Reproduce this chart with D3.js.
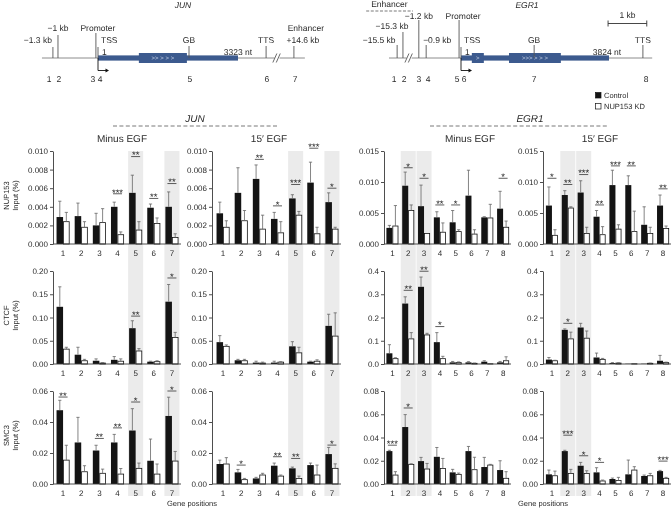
<!DOCTYPE html>
<html><head><meta charset="utf-8">
<script src="https://cdn.jsdelivr.net/npm/d3@7"></script>
<style>body{margin:0;background:#fff} svg{display:block;font-family:"Liberation Sans",Arial,sans-serif;will-change:transform} svg text{text-rendering:geometricPrecision}</style>
</head><body><svg id="c" width="672" height="510"></svg>
<script>
// ---------------- DATA ----------------
const junPositions = ["1","2","3","4","5","6","7"];
const egr1Positions = ["1","2","3","4","5","6","7","8"];
const junShaded = ["5","7"];
const egr1Shaded = ["2","3"];
const seriesNames = ["Control","NUP153 KD"];
const rowFactors = ["NUP153","CTCF","SMC3"];
const conditions = ["Minus EGF","15\u2032 EGF"];

// NUP153 row
const nupJunMinusCtrl = [0.0029,0.0030,0.0020,0.0040,0.0055,0.0039,0.0040];
const nupJunMinusCtrlSd = [0.0017,0.0014,0.0013,0.0005,0.0019,0.0004,0.0016];
const nupJunMinusKd = [0.0024,0.0018,0.0023,0.0010,0.0015,0.0022,0.0007];
const nupJunMinusKdSd = [0.0010,0.0006,0.0015,0.0003,0.0009,0.0006,0.0004];
const nupJunMinusSig = [null,null,null,"***","**","**","**"];
const nupJunMinusSigY = [null,null,null,0.0054,0.0094,0.0049,0.0065];

const nupJun15Ctrl = [0.0033,0.0055,0.0070,0.0027,0.0049,0.0066,0.0045];
const nupJun15CtrlSd = [0.0012,0.0027,0.0015,0.0007,0.0004,0.0022,0.0010];
const nupJun15Kd = [0.0018,0.0025,0.0016,0.0012,0.0031,0.0011,0.0016];
const nupJun15KdSd = [0.0007,0.0011,0.0015,0.0012,0.0004,0.0007,0.0002];
const nupJun15Sig = [null,null,"**","*","***","***","*"];
const nupJun15SigY = [null,null,0.0091,0.0041,0.0064,0.0103,0.0060];

const nupEgrMinusCtrl = [0.0026,0.0094,0.0061,0.0043,0.0035,0.0078,0.0043,0.0057];
const nupEgrMinusCtrlSd = [0.0004,0.0022,0.0034,0.0009,0.0019,0.0041,0.0001,0.0028];
const nupEgrMinusKd = [0.0029,0.0054,0.0017,0.0019,0.0020,0.0016,0.0042,0.0027];
const nupEgrMinusKdSd = [0.0033,0.0009,0.0000,0.0015,0.0003,0.0007,0.0022,0.0010];
const nupEgrMinusSig = [null,"*","*","**","*",null,null,"*"];
const nupEgrMinusSigY = [null,0.0123,0.0106,0.0063,0.0063,null,null,0.0106];

const nupEgr15Ctrl = [0.0062,0.0079,0.0083,0.0044,0.0095,0.0095,0.0031,0.0062];
const nupEgr15CtrlSd = [0.0030,0.0007,0.0019,0.0010,0.0024,0.0015,0.0029,0.0017];
const nupEgr15Kd = [0.0014,0.0058,0.0017,0.0015,0.0024,0.0020,0.0017,0.0025];
const nupEgr15KdSd = [0.0009,0.0002,0.0010,0.0013,0.0007,0.0033,0.0010,0.0004];
const nupEgr15Sig = ["*","**","***","**","***","**",null,"**"];
const nupEgr15SigY = [0.0106,0.0096,0.0112,0.0063,0.0126,0.0126,null,0.0089];

// CTCF row
const ctcfJunMinusCtrl = [0.123,0.020,0.007,0.009,0.077,0.005,0.134];
const ctcfJunMinusCtrlSd = [0.043,0.016,0.004,0.007,0.016,0.001,0.037];
const ctcfJunMinusKd = [0.032,0.007,0.002,0.006,0.028,0.005,0.057];
const ctcfJunMinusKdSd = [0.004,0.003,0.001,0.005,0.005,0.002,0.011];
const ctcfJunMinusSig = [null,null,null,null,"**",null,"*"];
const ctcfJunMinusSigY = [null,null,null,null,0.103,null,0.185];

const ctcfJun15Ctrl = [0.047,0.008,0.003,0.003,0.038,0.005,0.082];
const ctcfJun15CtrlSd = [0.014,0.002,0.003,0.003,0.010,0.001,0.025];
const ctcfJun15Kd = [0.038,0.007,0.002,0.004,0.024,0.006,0.060];
const ctcfJun15KdSd = [0.003,0.003,0.002,0.001,0.012,0.003,0.050];
const ctcfJun15Sig = [null,null,null,null,null,null,null];
const ctcfJun15SigY = [null,null,null,null,null,null,null];

const ctcfEgrMinusCtrl = [0.046,0.260,0.332,0.094,0.007,0.007,0.010,0.007];
const ctcfEgrMinusCtrlSd = [0.037,0.029,0.042,0.041,0.004,0.003,0.004,0.004];
const ctcfEgrMinusKd = [0.023,0.108,0.125,0.023,0.006,0.003,0.001,0.014];
const ctcfEgrMinusKdSd = [0.004,0.027,0.007,0.010,0.003,0.001,0.000,0.017];
const ctcfEgrMinusSig = [null,"**","**","*",null,null,null,null];
const ctcfEgrMinusSigY = [null,0.317,0.399,0.161,null,null,null,null];

const ctcfEgr15Ctrl = [0.019,0.147,0.157,0.028,0.004,0.001,0.001,0.014];
const ctcfEgr15CtrlSd = [0.009,0.004,0.018,0.019,0.002,0.000,0.000,0.023];
const ctcfEgr15Kd = [0.014,0.108,0.111,0.020,0.004,0.001,0.003,0.006];
const ctcfEgr15KdSd = [0.002,0.029,0.031,0.004,0.001,0.000,0.001,0.002];
const ctcfEgr15Sig = [null,"*",null,null,null,null,null,null];
const ctcfEgr15SigY = [null,0.175,null,null,null,null,null,null];

// SMC3 row
const smcJunMinusCtrl = [0.0476,0.0268,0.0216,0.0268,0.0345,0.0150,0.0439];
const smcJunMinusCtrlSd = [0.0064,0.0162,0.0034,0.0052,0.0141,0.0140,0.0121];
const smcJunMinusKd = [0.0154,0.0079,0.0069,0.0064,0.0101,0.0064,0.0148];
const smcJunMinusKdSd = [0.0096,0.0039,0.0027,0.0036,0.0034,0.0065,0.0062];
const smcJunMinusSig = ["**",null,"**","**","*",null,"*"];
const smcJunMinusSigY = [0.0561,null,0.0294,0.0362,0.0529,null,0.0600];

const smcJun15Ctrl = [0.0129,0.0075,0.0036,0.0118,0.0101,0.0122,0.0193];
const smcJun15CtrlSd = [0.0025,0.0019,0.0007,0.0017,0.0008,0.0013,0.0043];
const smcJun15Kd = [0.0129,0.0028,0.0058,0.0051,0.0036,0.0058,0.0101];
const smcJun15KdSd = [0.0041,0.0008,0.0011,0.0007,0.0015,0.0064,0.0029];
const smcJun15Sig = [null,"*",null,"**","**",null,"*"];
const smcJun15SigY = [null,0.0122,null,0.0176,0.0165,null,0.0251];

const smcEgrMinusCtrl = [0.0283,0.0490,0.0197,0.0234,0.0100,0.0283,0.0146,0.0120];
const smcEgrMinusCtrlSd = [0.0007,0.0107,0.0032,0.0080,0.0026,0.0040,0.0083,0.0080];
const smcEgrMinusKd = [0.0077,0.0169,0.0129,0.0134,0.0083,0.0123,0.0163,0.0049];
const smcEgrMinusKdSd = [0.0029,0.0005,0.0048,0.0086,0.0011,0.0107,0.0006,0.0057];
const smcEgrMinusSig = ["***","*",null,null,null,null,null,null];
const smcEgrMinusSigY = [0.0334,0.0654,null,null,null,null,null,null];

const smcEgr15Ctrl = [0.0083,0.0283,0.0157,0.0100,0.0043,0.0083,0.0069,0.0111];
const smcEgr15CtrlSd = [0.0037,0.0007,0.0029,0.0040,0.0008,0.0123,0.0008,0.0006];
const smcEgr15Kd = [0.0071,0.0091,0.0091,0.0026,0.0031,0.0120,0.0071,0.0049];
const smcEgr15KdSd = [0.0040,0.0035,0.0023,0.0008,0.0026,0.0029,0.0020,0.0008];
const smcEgr15Sig = [null,"***","*","*",null,null,null,"***"];
const smcEgr15SigY = [null,0.0420,0.0243,0.0186,null,null,null,0.0197];

// y-axis ticks per row (JUN, EGR1)
const junTicks = [[0,0.002,0.004,0.006,0.008,0.010],[0,0.05,0.10,0.15,0.20],[0,0.02,0.04,0.06]];
const egrTicks = [[0,0.005,0.010,0.015],[0,0.1,0.2,0.3,0.4],[0,0.02,0.04,0.06,0.08]];
const junTickFmt = [".3f",".2f",".2f"];
const egrTickFmt = [".3f",".1f",".2f"];

// ---------------- LAYOUT ----------------
const svg = d3.select("#c");
const INK = "#2a2a2a", AX = "#3a3a3a";
const cols = [
  {x0:54, x1:181, axis:53, gene:"JUN"},
  {x0:214, x1:341, axis:212, gene:"JUN"},
  {x0:384.5, x1:511, axis:384, gene:"EGR1"},
  {x0:544, x1:671, axis:543, gene:"EGR1"}
];
const rows = [{top:151,bottom:244},{top:271,bottom:364},{top:391,bottom:484}];
const shadeTop = 151, shadeBottom = 496;

const panelData = [
  [[nupJunMinusCtrl,nupJunMinusCtrlSd,nupJunMinusKd,nupJunMinusKdSd,nupJunMinusSig,nupJunMinusSigY],
   [nupJun15Ctrl,nupJun15CtrlSd,nupJun15Kd,nupJun15KdSd,nupJun15Sig,nupJun15SigY],
   [nupEgrMinusCtrl,nupEgrMinusCtrlSd,nupEgrMinusKd,nupEgrMinusKdSd,nupEgrMinusSig,nupEgrMinusSigY],
   [nupEgr15Ctrl,nupEgr15CtrlSd,nupEgr15Kd,nupEgr15KdSd,nupEgr15Sig,nupEgr15SigY]],
  [[ctcfJunMinusCtrl,ctcfJunMinusCtrlSd,ctcfJunMinusKd,ctcfJunMinusKdSd,ctcfJunMinusSig,ctcfJunMinusSigY],
   [ctcfJun15Ctrl,ctcfJun15CtrlSd,ctcfJun15Kd,ctcfJun15KdSd,ctcfJun15Sig,ctcfJun15SigY],
   [ctcfEgrMinusCtrl,ctcfEgrMinusCtrlSd,ctcfEgrMinusKd,ctcfEgrMinusKdSd,ctcfEgrMinusSig,ctcfEgrMinusSigY],
   [ctcfEgr15Ctrl,ctcfEgr15CtrlSd,ctcfEgr15Kd,ctcfEgr15KdSd,ctcfEgr15Sig,ctcfEgr15SigY]],
  [[smcJunMinusCtrl,smcJunMinusCtrlSd,smcJunMinusKd,smcJunMinusKdSd,smcJunMinusSig,smcJunMinusSigY],
   [smcJun15Ctrl,smcJun15CtrlSd,smcJun15Kd,smcJun15KdSd,smcJun15Sig,smcJun15SigY],
   [smcEgrMinusCtrl,smcEgrMinusCtrlSd,smcEgrMinusKd,smcEgrMinusKdSd,smcEgrMinusSig,smcEgrMinusSigY],
   [smcEgr15Ctrl,smcEgr15CtrlSd,smcEgr15Kd,smcEgr15KdSd,smcEgr15Sig,smcEgr15SigY]]
];

// x scales per column
const xScales = cols.map(c => {
  const dom = c.gene === "JUN" ? junPositions : egr1Positions;
  const p = c.gene === "JUN" ? 0.28 : 0.24;
  return d3.scaleBand().domain(dom).range([c.x0, c.x1]).paddingInner(p).paddingOuter(p/2);
});

// shading columns (continuous through all rows)
const gShade = svg.append("g");
cols.forEach((c, ci) => {
  const xs = xScales[ci];
  const sh = c.gene === "JUN" ? junShaded : egr1Shaded;
  gShade.selectAll(null).data(sh).join("rect")
    .attr("x", d => xs(d) + xs.bandwidth()/2 - 7.5)
    .attr("width", 15)
    .attr("y", shadeTop).attr("height", shadeBottom - shadeTop)
    .attr("fill", "#ebebeb");
});

// panels
rows.forEach((r, ri) => {
  cols.forEach((c, ci) => {
    const xs = xScales[ci];
    const dom = xs.domain();
    const isJun = c.gene === "JUN";
    const ticks = isJun ? junTicks[ri] : egrTicks[ri];
    const fmt = d3.format(isJun ? junTickFmt[ri] : egrTickFmt[ri]);
    const y = d3.scaleLinear().domain([0, d3.max(ticks)]).range([r.bottom, r.top]);
    const [ctrl, ctrlSd, kd, kdSd, sig, sigY] = panelData[ri][ci];
    const x1 = d3.scaleBand().domain(seriesNames).range([0, xs.bandwidth()]);
    const rowsD = dom.map((k, i) => ({k, vals:[
      {s:seriesNames[0], v:ctrl[i], sd:ctrlSd[i]},
      {s:seriesNames[1], v:kd[i], sd:kdSd[i]}], sig:sig[i], sigY:sigY[i]}));
    const g = svg.append("g");
    const grp = g.selectAll(null).data(rowsD).join("g")
      .attr("transform", d => `translate(${xs(d.k)},0)`);
    // bars
    grp.selectAll("rect").data(d => d.vals).join("rect")
      .attr("x", d => x1(d.s) + (d.s === seriesNames[1] ? 0.4 : 0))
      .attr("width", d => x1.bandwidth() - (d.s === seriesNames[1] ? 0.8 : 0))
      .attr("y", d => y(d.v))
      .attr("height", d => Math.max(0, y(0) - y(d.v)))
      .attr("fill", d => d.s === seriesNames[0] ? "#141414" : "#fff")
      .attr("stroke", d => d.s === seriesNames[1] ? "#141414" : "none")
      .attr("stroke-width", 0.8);
    // error bars
    const eb = grp.selectAll("g.eb").data(d => d.vals.filter(v => v.sd > 0)).join("g");
    eb.append("line")
      .attr("x1", d => x1(d.s) + x1.bandwidth()/2).attr("x2", d => x1(d.s) + x1.bandwidth()/2)
      .attr("y1", d => y(d.v)).attr("y2", d => y(d.v + d.sd))
      .attr("stroke", "#666").attr("stroke-width", 0.8);
    eb.append("line")
      .attr("x1", d => x1(d.s) + x1.bandwidth()/2 - 1.6).attr("x2", d => x1(d.s) + x1.bandwidth()/2 + 1.6)
      .attr("y1", d => y(d.v + d.sd)).attr("y2", d => y(d.v + d.sd))
      .attr("stroke", "#666").attr("stroke-width", 0.8);
    // significance
    const sg = grp.filter(d => d.sig);
    sg.append("line")
      .attr("x1", xs.bandwidth()/2 - 4.5).attr("x2", xs.bandwidth()/2 + 4.5)
      .attr("y1", d => y(d.sigY)).attr("y2", d => y(d.sigY))
      .attr("stroke", "#333").attr("stroke-width", 0.8);
    sg.append("text")
      .attr("x", xs.bandwidth()/2).attr("y", d => y(d.sigY) + 1.8)
      .attr("text-anchor", "middle").attr("font-size", 9.5).attr("fill", "#1a1a1a")
      .text(d => d.sig);
    // axes
    const ya = g.append("g").attr("transform", `translate(${c.axis},0)`)
      .call(d3.axisLeft(y).tickValues(ticks).tickFormat(fmt).tickSize(3).tickSizeOuter(0).tickPadding(2));
    const xa = g.append("g").attr("transform", `translate(0,${r.bottom})`)
      .call(d3.axisBottom(xs).tickSize(0).tickPadding(6));
    xa.select(".domain").attr("d", `M${c.axis},0H${c.x1}`);
    [ya, xa].forEach(a => {
      a.selectAll("path,line").attr("stroke", AX).attr("stroke-width", 0.9);
      a.selectAll("text").attr("fill", INK).attr("font-size", 8).attr("font-family", null);
    });
  });
  // y titles
  const cy = (r.top + r.bottom)/2 - 2;
  svg.append("text").attr("transform", `translate(9,${cy}) rotate(-90)`)
    .attr("text-anchor","middle").attr("font-size",7.5).attr("fill",INK).text(rowFactors[ri]);
  svg.append("text").attr("transform", `translate(17.5,${cy}) rotate(-90)`)
    .attr("text-anchor","middle").attr("font-size",7.5).attr("fill",INK).text("Input (%)");
});

// Gene positions titles
[[192],[543]].forEach(([x]) => {
  svg.append("text").attr("x", x).attr("y", 506).attr("text-anchor","middle")
    .attr("font-size", 7.5).attr("fill", INK).text("Gene positions");
});

// condition headers
const condHeads = [[122, conditions[0]],[269, conditions[1]],[470, conditions[0]],[600, conditions[1]]];
condHeads.forEach(([x,t]) => svg.append("text").attr("x",x).attr("y",141.5).attr("text-anchor","middle")
  .attr("font-size",10).attr("fill",INK).text(t));
[[195,113,277,"JUN"],[530,430,607,"EGR1"]].forEach(([x,a,b,t]) => {
  svg.append("text").attr("x",x).attr("y",121.5).attr("text-anchor","middle")
    .attr("font-size",10).attr("font-style","italic").attr("fill",INK).text(t);
  svg.append("line").attr("x1",a).attr("x2",b).attr("y1",126).attr("y2",126)
    .attr("stroke","#555").attr("stroke-width",0.8).attr("stroke-dasharray","4,2.4");
});

// legend
seriesNames.forEach((s, i) => {
  const yy = 92.5 + i*11;
  svg.append("rect").attr("x",595.5).attr("y",yy).attr("width",5.5).attr("height",5.5)
    .attr("fill", i===0 ? "#141414" : "#fff").attr("stroke","#141414").attr("stroke-width",0.7);
  svg.append("text").attr("x",604).attr("y",yy+5.5).attr("font-size",7.5).attr("fill",INK).text(s);
});

// ---------------- GENE DIAGRAMS ----------------
const BLUE = "#3c5a8e", LINE = "#8c8c8c", STICK = "#555";
const FS = 8.5;
function txt(x, y, t, anchor, opts={}) {
  const e = svg.append("text").attr("x",x).attr("y",y).attr("text-anchor",anchor||"middle")
    .attr("font-size", opts.fs || FS).attr("fill", opts.fill || INK).text(t);
  if (opts.italic) e.attr("font-style","italic");
  return e;
}
function breakMark(x, yl) {
  svg.append("rect").attr("x", x-2.5).attr("y", yl-2).attr("width",5).attr("height",4).attr("fill","#fff");
  [-2.2, 1.2].forEach(dx => svg.append("line").attr("x1", x+dx-2).attr("y1", yl+4.5)
    .attr("x2", x+dx+2).attr("y2", yl-4.5).attr("stroke", "#444").attr("stroke-width",0.8));
}
function bentArrow(x) {
  svg.append("path").attr("d", `M${x},58V70.5H${x+8}`).attr("fill","none").attr("stroke","#111").attr("stroke-width",0.9);
  svg.append("path").attr("d", `M${x+11},70.5L${x+7.5},68.6L${x+7.5},72.4Z`).attr("fill","#111");
}
const GY = 58;

// JUN
const junKb = [0, 3.323];
const jx = d3.scaleLinear().domain(junKb).range([98, 238]);
svg.append("line").attr("x1", jx(-1.33)).attr("x2", jx(4.91)).attr("y1",GY).attr("y2",GY).attr("stroke",LINE).attr("stroke-width",1);
svg.append("rect").attr("x", jx(0)).attr("width", jx(3.323)-jx(0)).attr("y",GY-2.6).attr("height",5.2).attr("fill",BLUE);
svg.append("rect").attr("x", jx(0.97)).attr("width", jx(2.11)-jx(0.97)).attr("y",GY-5).attr("height",10).attr("fill",BLUE);
txt(jx(1.54), GY+2.3, ">> > > >", "middle", {fs:6, fill:"#c8d2e6"});
breakMark(jx(4.25), GY);
const junSticks = [[-1.07,47],[-0.95,35],[-0.05,33],[0,47],[2.16,46],[3.99,46],[4.65,46]];
junSticks.forEach(([k,t]) => svg.append("line").attr("x1",jx(k)).attr("x2",jx(k)).attr("y1",t).attr("y2",GY)
  .attr("stroke",STICK).attr("stroke-width",0.9));
bentArrow(jx(0));
txt(jx(-1.07)-1, 43, "\u22121.3 kb", "end");
txt(jx(-0.95), 31, "\u22121 kb");
txt(jx(-0.05)+2, 31, "Promoter");
txt(jx(0)+3, 43, "TSS", "start");
txt(jx(0)+4, 55, "1", "start");
txt(jx(2.16), 43, "GB");
txt(jx(3.323), 55, "3323 nt");
txt(jx(3.99), 43, "TTS");
txt(jx(4.65)+9, 43, "+14.6 kb");
txt(jx(4.65)+12, 31, "Enhancer");
txt(183, 8, "JUN", "middle", {italic:true});
const junNumX = [-1.16,-0.93,-0.12,0.05,2.18,4.01,4.68];
junNumX.forEach((k,i) => txt(jx(k), 82, junPositions[i]));

// EGR1
const egrKb = [0, 3.824];
const ex = d3.scaleLinear().domain(egrKb).range([461, 609]);
svg.append("line").attr("x1", ex(-1.86)).attr("x2", ex(4.94)).attr("y1",GY).attr("y2",GY).attr("stroke",LINE).attr("stroke-width",1);
svg.append("rect").attr("x", ex(0)).attr("width", ex(3.824)-ex(0)).attr("y",GY-2.6).attr("height",5.2).attr("fill",BLUE);
svg.append("rect").attr("x", ex(0.28)).attr("width", ex(0.59)-ex(0.28)).attr("y",GY-5).attr("height",10).attr("fill",BLUE);
svg.append("rect").attr("x", ex(1.24)).attr("width", ex(2.58)-ex(1.24)).attr("y",GY-5).attr("height",10).attr("fill",BLUE);
txt(ex(0.435), GY+2.3, ">", "middle", {fs:6, fill:"#c8d2e6"});
txt(ex(1.91), GY+2.3, ">>> > > >", "middle", {fs:6, fill:"#c8d2e6"});
breakMark(ex(-1.34), GY);
const egrSticks = [[-1.65,45],[-1.50,32],[-1.09,20],[-0.90,45],[-0.05,20],[0,47],[1.89,45],[4.70,45]];
egrSticks.forEach(([k,t]) => svg.append("line").attr("x1",ex(k)).attr("x2",ex(k)).attr("y1",t).attr("y2",GY)
  .attr("stroke",STICK).attr("stroke-width",0.9));
bentArrow(ex(0));
txt(ex(-1.65)-18, 43, "\u221215.5 kb");
txt(ex(-1.50)-11, 29, "\u221215.3 kb");
txt(ex(-1.09), 19, "\u22121.2 kb");
txt(ex(-0.90)-3, 43, "\u22120.9 kb", "start");
txt(ex(-0.05)+4, 19, "Promoter");
txt(ex(0)+3, 43, "TSS", "start");
txt(ex(0)+4, 55, "1", "start");
txt(ex(1.89), 43, "GB");
txt(ex(3.824)-2, 55, "3824 nt");
txt(ex(4.70), 43, "TTS");
txt(527, 8, "EGR1", "middle", {italic:true});
txt(ex(-1.85), 7, "Enhancer");
svg.append("line").attr("x1", ex(-2.45)).attr("x2", ex(-1.24)).attr("y1",11).attr("y2",11)
  .attr("stroke","#555").attr("stroke-width",0.8).attr("stroke-dasharray","3,1.6");
// scale bar 1 kb
svg.append("path").attr("d", `M${ex(3.8)},20.5V26.5M${ex(3.8)},23.5H${ex(4.8)}M${ex(4.8)},20.5V26.5`)
  .attr("fill","none").attr("stroke","#333").attr("stroke-width",0.9);
txt((ex(3.8)+ex(4.8))/2, 18, "1 kb");
const egrNumX = [-1.73,-1.47,-1.09,-0.85,-0.10,0.08,1.89,4.78];
egrNumX.forEach((k,i) => txt(ex(k), 82, egr1Positions[i]));
</script></body></html>
